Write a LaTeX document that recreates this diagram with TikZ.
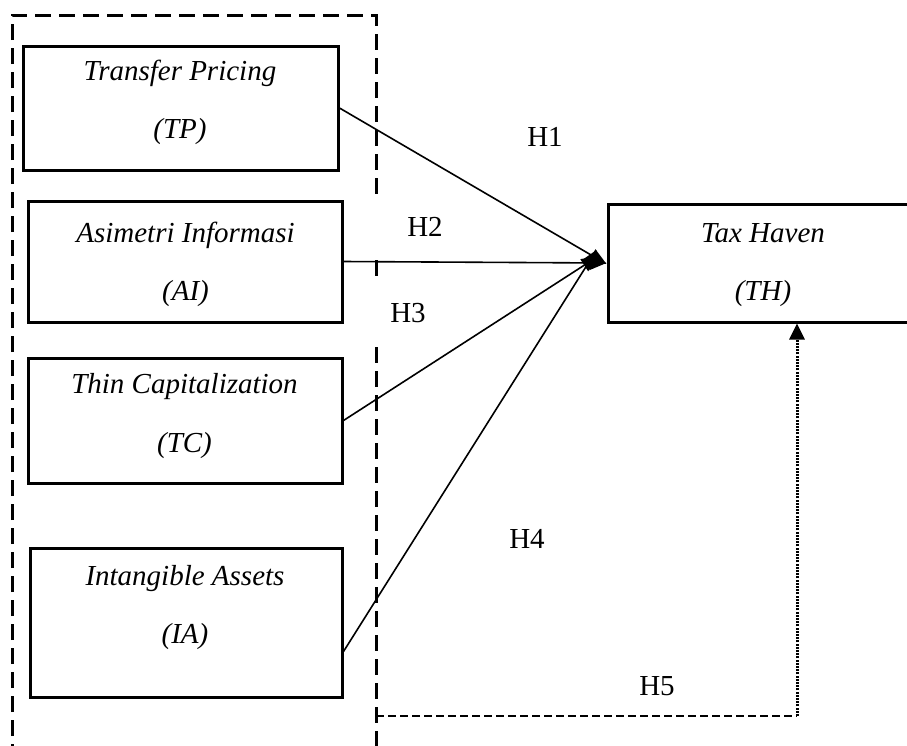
\documentclass[tikz,border=0pt]{standalone}
\usepackage{fontspec}
\setmainfont{Liberation Serif}
\usetikzlibrary{arrows.meta}
\tikzset{
  varbox/.style={draw, line width=3pt, rectangle, inner sep=0pt},
  vartext/.style={anchor=base, inner sep=0pt, font=\fontsize{29}{34}\selectfont\itshape},
  hlabel/.style={anchor=base, inner sep=0pt, font=\fontsize{29}{34}\selectfont},
  frame/.style={line width=3pt, dash pattern=on 16pt off 8pt},
  link/.style={line width=1.6pt, -{Triangle[length=17pt,width=14pt]}},
  h5dash/.style={line width=1.6pt, dash pattern=on 8pt off 4pt},
  h5dot/.style={line width=3pt, dash pattern=on 2pt off 1.2pt, -{Triangle[length=16pt,width=15pt]}}
}
\begin{document}
\begin{tikzpicture}[x=1pt, y=-1pt]
\useasboundingbox (0,0) rectangle (907,745);
% dashed frame
\coordinate (f1) at (12,760);
\coordinate (f2) at (12,15);
\coordinate (f3) at (376,15);
\coordinate (f4) at (376,199);
\coordinate (f5) at (376,260);
\coordinate (f6) at (376,283);
\coordinate (f7) at (376,347);
\coordinate (f8) at (376,760);
\draw[frame] (f1) -- (f2) -- (f3) -- (f4);
\draw[frame] (f5) -- (f6);
\draw[frame] (f7) -- (f8);
% boxes
\node[varbox, minimum width=315pt, minimum height=124pt] (tp) at (180.5,108) {};
\node[varbox, minimum width=314pt, minimum height=121pt] (ai) at (185,261.5) {};
\node[varbox, minimum width=314pt, minimum height=125pt] (tc) at (185,420.5) {};
\node[varbox, minimum width=312pt, minimum height=149pt] (ia) at (186,622.5) {};
\node[varbox, minimum width=312pt, minimum height=118pt] (th) at (764,263) {};
% box texts
\node[vartext] (tp1) at (180,80) {Transfer Pricing};
\node[vartext] (tp2) at (180,138) {(TP)};
\node[vartext] (ai1) at (185.5,242) {Asimetri Informasi};
\node[vartext] (ai2) at (185.5,300) {(AI)};
\node[vartext] (tc1) at (184.5,393) {Thin Capitalization};
\node[vartext] (tc2) at (184.5,452) {(TC)};
\node[vartext] (ia1) at (185,585) {Intangible Assets};
\node[vartext] (ia2) at (185,643) {(IA)};
\node[vartext] (th1) at (763,242) {Tax Haven};
\node[vartext] (th2) at (763,300) {(TH)};
% hypothesis labels
\node[hlabel] (h1) at (545,146) {H1};
\node[hlabel] (h2) at (425,236) {H2};
\node[hlabel] (h3) at (408,322) {H3};
\node[hlabel] (h4) at (527,548) {H4};
\node[hlabel] (h5) at (657,695) {H5};
% connectors
\draw[link] (tp.east) -- ([yshift=-1pt]th.west);
\draw[link] (ai.east) -- (th.west);
\draw[link] (tc.east) -- ([xshift=-8pt,yshift=7pt]th.west);
\draw[link] ([yshift=-29pt]ia.east) -- ([xshift=-10pt,yshift=13pt]th.west);
% H5 path
\coordinate (h5s) at (376,716);
\coordinate (h5c) at (797,716);
\draw[h5dash] (h5s) -- (h5c);
\draw[h5dot] (h5c) -- (h5c |- th.south);
\end{tikzpicture}
\end{document}
